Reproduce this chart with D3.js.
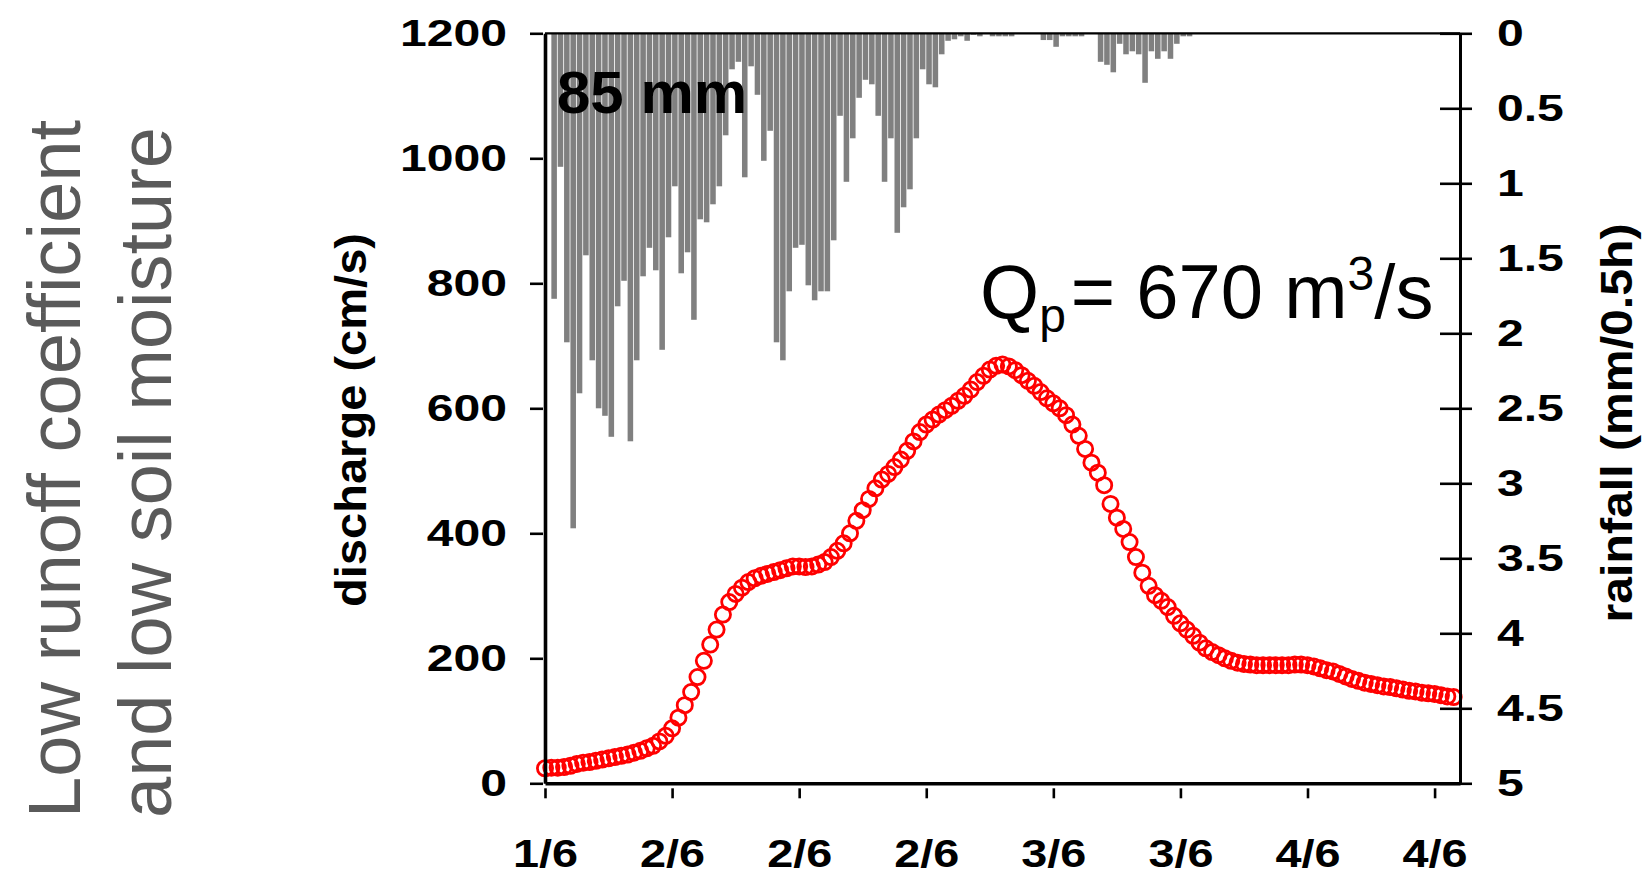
<!DOCTYPE html>
<html>
<head>
<meta charset="utf-8">
<script src="https://cdn.jsdelivr.net/npm/d3@7"></script>
<style>
  html, body { margin: 0; padding: 0; background: #ffffff; }
  svg { display: block; }
</style>
</head>
<body>
<svg id="chart" width="1646" height="879"></svg>
<script>
// Half-hourly rainfall (mm per 0.5 h), hanging from the top axis
const rainfall = [
  0, 1.77, 0.89, 2.06, 3.30, 2.40, 1.48, 2.18, 2.50, 2.55,
  2.69, 1.82, 1.65, 2.72, 2.18, 1.62, 1.43, 1.58, 2.11, 1.36,
  1.02, 1.60, 1.46, 1.91, 1.24, 1.26, 1.14, 1.02, 0.68, 0.24,
  0.19, 0.96, 0.22, 0.41, 0.85, 0.65, 2.06, 2.18, 1.72, 1.43,
  1.41, 1.68, 1.78, 1.72, 1.72, 1.38, 0.55, 0.99, 0.70, 0.43,
  0.31, 0.34, 0.55, 0.99, 0.70, 1.33, 1.16, 1.04, 0.70, 0.24,
  0.34, 0.36, 0.14, 0.05, 0.04, 0.02, 0.05, 0.01, 0.02,
  0, 0.02, 0.02, 0.02, 0.02, 0, 0, 0, 0,
  0.045, 0.045, 0.09, 0.02, 0.02, 0.02, 0.02, 0, 0,
  0.19, 0.21, 0.26, 0.07, 0.14, 0.12, 0.14, 0.33, 0.12, 0.17,
  0.12, 0.17, 0.07, 0.02, 0.02
];

// Half-hourly discharge at the outlet
const discharge = [
  24, 25, 25, 26, 28, 31, 33, 34, 36, 38,
  40, 42, 44, 46, 49, 52, 56, 60, 67, 76,
  88, 105, 125, 146, 170, 196, 222, 246, 270, 290,
  303, 313, 322, 328, 332, 335, 338, 341, 344, 347,
  347, 346, 347, 350, 354, 362, 372, 384, 400, 420,
  437, 455, 472, 486, 495, 506, 518, 532, 547, 562,
  574, 582, 590, 597, 604, 612, 620, 630, 642, 652,
  662, 668, 670, 667, 661, 653, 644, 636, 626, 616,
  608, 600, 589, 574, 556, 535, 513, 497, 477, 447,
  425, 407, 386, 362, 337, 316, 301, 292, 282, 268,
  256, 246, 236, 225, 216, 210, 205, 200, 196, 193,
  191, 190, 189, 189, 189, 189, 189, 189, 190, 190,
  189, 187, 184, 181, 179, 175, 171, 167, 164, 161,
  159, 157, 155, 154, 152, 150, 148, 147, 145, 144,
  143, 141, 139, 138
];

const xTickIndex = [0, 20, 40, 60, 80, 100, 120, 140];
const xTickLabels = ["1/6", "2/6", "2/6", "2/6", "3/6", "3/6", "4/6", "4/6"];
const dischargeTicks = [0, 200, 400, 600, 800, 1000, 1200];
const rainTicks = [0, 0.5, 1, 1.5, 2, 2.5, 3, 3.5, 4, 4.5, 5];
const totalRain = 85;
const peakDischarge = 670;

const FONT = "'Liberation Sans', Arial, Helvetica, sans-serif";

const svg = d3.select("#chart");
svg.append("rect").attr("width", 1646).attr("height", 879).attr("fill", "#ffffff");

const plotLeft = 545, plotRight = 1460, plotTop = 33.3, plotBottom = 783.3;

const x = d3.scaleLinear().domain([0, 144]).range([plotLeft, plotRight]);
const yQ = d3.scaleLinear().domain([0, 1200]).range([plotBottom, plotTop]);
const yR = d3.scaleLinear().domain([0, 5]).range([plotTop, plotBottom]);

// Side caption
const caption = svg.append("g")
  .attr("font-family", FONT)
  .attr("font-size", 75)
  .attr("fill", "#5a5a5a");
caption.append("text")
  .attr("transform", "translate(80,818) rotate(-90)")
  .attr("textLength", 698).attr("lengthAdjust", "spacingAndGlyphs")
  .text("Low runoff coefficient");
caption.append("text")
  .attr("transform", "translate(171,818) rotate(-90)")
  .attr("textLength", 691).attr("lengthAdjust", "spacingAndGlyphs")
  .text("and low soil moisture");

// Rainfall bars
svg.append("g")
  .selectAll("rect")
  .data(rainfall)
  .join("rect")
  .attr("x", (d, i) => x(i))
  .attr("y", yR(0))
  .attr("width", (d, i) => x(i + 1) - x(i) - 0.8)
  .attr("height", d => yR(d) - yR(0))
  .attr("fill", "#808080");

// Discharge points
svg.append("g")
  .selectAll("circle")
  .data(discharge)
  .join("circle")
  .attr("cx", (d, i) => x(i))
  .attr("cy", d => yQ(d))
  .attr("r", 7.6)
  .attr("fill", "none")
  .attr("stroke", "#ff0000")
  .attr("stroke-width", 2.8);

function styleAxis(g) {
  g.attr("font-family", FONT).attr("font-size", 37).attr("font-weight", "bold");
  g.selectAll(".tick line").attr("stroke", "#000").attr("stroke-width", 2.6);
  g.selectAll(".tick text").attr("fill", "#000");
}

// Top frame line
svg.append("line")
  .attr("x1", plotLeft).attr("x2", plotRight)
  .attr("y1", plotTop).attr("y2", plotTop)
  .attr("stroke", "#000").attr("stroke-width", 2.2);

// Left axis: discharge
const gL = svg.append("g")
  .attr("transform", `translate(${plotLeft},0)`)
  .call(d3.axisLeft(yQ).tickValues(dischargeTicks).tickSize(15).tickSizeOuter(0).tickFormat(d3.format("d")));
styleAxis(gL);
gL.select(".domain").attr("stroke", "#000").attr("stroke-width", 3.6);
gL.selectAll(".tick line").attr("x1", -2);
gL.selectAll(".tick text")
  .attr("x", null).attr("dy", null)
  .attr("text-anchor", "end")
  .attr("transform", "translate(-38,12.5) scale(1.3,1)");

// Right axis: rainfall
const gR = svg.append("g")
  .attr("transform", `translate(${plotRight},0)`)
  .call(d3.axisRight(yR).tickValues(rainTicks).tickSize(12).tickSizeOuter(0).tickFormat(d3.format("~g")));
styleAxis(gR);
gR.select(".domain").attr("stroke", "#000").attr("stroke-width", 3);
gR.selectAll(".tick line").attr("x1", -20);
gR.selectAll(".tick text")
  .attr("x", null).attr("dy", null)
  .attr("text-anchor", "start")
  .attr("transform", "translate(37,12.5) scale(1.3,1)");

// Bottom axis: time
const gB = svg.append("g")
  .attr("transform", `translate(0,${plotBottom})`)
  .call(d3.axisBottom(x).tickValues(xTickIndex).tickSize(15).tickSizeOuter(0)
    .tickFormat((d, i) => xTickLabels[i]));
styleAxis(gB);
gB.select(".domain").attr("stroke", "#000").attr("stroke-width", 3.6);
gB.selectAll(".tick line").attr("y1", 5);
gB.selectAll(".tick text")
  .attr("y", null).attr("dy", null)
  .attr("text-anchor", "middle")
  .attr("font-size", 39)
  .attr("transform", "translate(0,84) scale(1.2,1)");

// Axis titles
svg.append("text")
  .attr("transform", "translate(366,420) rotate(-90)")
  .attr("text-anchor", "middle")
  .attr("font-family", FONT).attr("font-size", 44).attr("font-weight", "bold")
  .attr("textLength", 374).attr("lengthAdjust", "spacingAndGlyphs")
  .text("discharge (cm/s)");

svg.append("text")
  .attr("transform", "translate(1632,423) rotate(-90)")
  .attr("text-anchor", "middle")
  .attr("font-family", FONT).attr("font-size", 44).attr("font-weight", "bold")
  .attr("textLength", 399).attr("lengthAdjust", "spacingAndGlyphs")
  .text("rainfall (mm/0.5h)");

// Event rainfall total
svg.append("text")
  .attr("x", 557).attr("y", 113)
  .attr("font-family", FONT).attr("font-size", 60).attr("font-weight", "bold")
  .attr("fill", "#000")
  .text(`${totalRain} mm`);

// Peak discharge annotation
const q = svg.append("text")
  .attr("x", 980).attr("y", 318)
  .attr("font-family", FONT).attr("font-size", 76).attr("fill", "#000");
q.append("tspan").text("Q");
q.append("tspan").attr("font-size", 48).attr("dy", 14).text("p");
q.append("tspan").attr("dy", -14).attr("dx", 5).text(`= ${peakDischarge} m`);
q.append("tspan").attr("font-size", 48).attr("dy", -28).text("3");
q.append("tspan").attr("dy", 28).text("/s");
</script>
</body>
</html>
